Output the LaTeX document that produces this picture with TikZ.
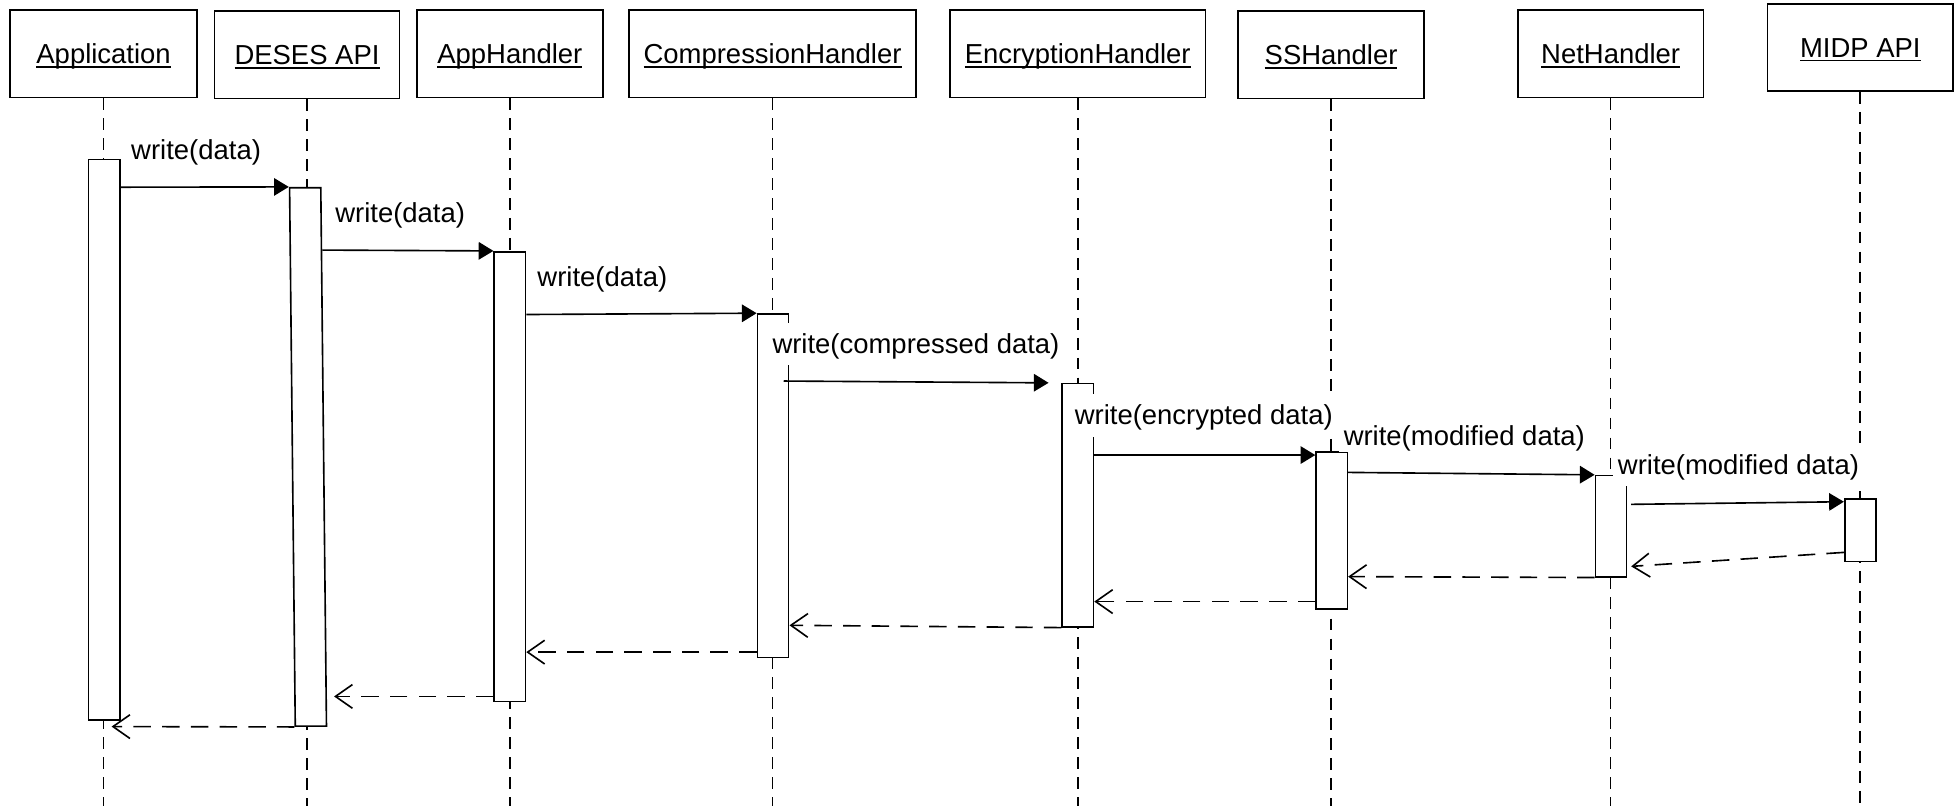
\documentclass[tikz,border=0pt]{standalone}
\usepackage{fontspec}
\setmainfont{Liberation Sans}
\usetikzlibrary{arrows.meta,calc}

% underlined object name, rule placed just under the baseline
\newcommand\ulname[1]{\setbox0=\hbox{#1}\rlap{\rule[-1.6pt]{\wd0}{0.6pt}}\box0}

\begin{document}
\begin{tikzpicture}[x=0.5pt, y=-0.5pt, line width=0.65pt,
  font=\fontsize{11pt}{13pt}\selectfont,
  obj/.style={draw, minimum height=35pt, inner sep=0pt, text height=7.9pt, text depth=0pt},
  lifeline/.style={dash pattern=on 4.7pt off 3.3pt},
  act/.style={draw, fill=white, inner sep=0pt, minimum width=12.5pt},
  call/.style={-{Triangle[length=5.9pt,width=7pt]}},
  reply/.style={dash pattern=on 7pt off 4.5pt, -{Straight Barb[length=6.8pt,width=9.5pt]}},
  msg/.style={fill=white, anchor=base west, inner xsep=2pt, inner ysep=2.3pt,
              text height=10pt, text depth=2.5pt},
]
\fill[white] (0,0) rectangle (1568,646);
\useasboundingbox (0,0) rectangle (1568,646);

% participants
\node[obj, minimum width=75pt]    (app)  at (83,43)     {\ulname{Application}};
\node[obj, minimum width=74pt]    (des)  at (246,44)    {\ulname{DESES API}};
\node[obj, minimum width=74.5pt]  (aph)  at (408.5,43)  {\ulname{AppHandler}};
\node[obj, minimum width=115pt]   (cmp)  at (619,43)    {\ulname{CompressionHandler}};
\node[obj, minimum width=102.5pt] (enc)  at (863.5,43)  {\ulname{EncryptionHandler}};
\node[obj, minimum width=74.5pt]  (ssh)  at (1066.5,44) {\ulname{SSHandler}};
\node[obj, minimum width=74.5pt]  (net)  at (1290.5,43) {\ulname{NetHandler}};
\node[obj, minimum width=74.5pt]  (mid)  at (1490.5,38) {\ulname{MIDP API}};

% lifelines
\foreach \o in {app,des,aph,cmp,enc,ssh,net,mid}
  \draw[lifeline] (\o.south) -- (\o.south |- 0,646);

% activation bars
\node[act, minimum height=224.6pt] (aApp) at (83.5,352.4) {};
\node[act, minimum height=215.7pt, xslant=-0.01055] (aDes) at (246.8,366.1) {};
\node[act, minimum height=180.2pt] (aAph) at (408.5,381.9) {};
\node[act, minimum height=137.6pt] (aCmp) at (619.4,389.2) {};
\node[act, minimum height=97.4pt]  (aEnc) at (863.6,404.8) {};
\node[act, minimum height=62.8pt]  (aSsh) at (1067,425.2) {};
\node[act, minimum height=40.5pt]  (aNet) at (1290.8,421.6) {};
\node[act, minimum height=25pt]    (aMid) at (1490.5,425) {};

% calls
\draw[call] (aApp.east |- 0,150) -- (aDes.north west);
\draw[call] ($(aDes.north east)!0.117!(aDes.south east)$) -- (aAph.north west);
\draw[call] (aAph.east |- 0,252) -- (aCmp.north west);
\draw[call] ($(aCmp.east |- 0,305.3)+(-4.6,0)$) -- ($(aEnc.north west)+(-10.3,0)$);
\draw[call] (aEnc.east |- 0,364.6) -- (aSsh.west |- 0,364.6);
\draw[call] (aSsh.east |- 0,378.5) -- (aNet.north west);
\draw[call] ($(aNet.east |- 0,404.1)+(3,0)$) -- (aMid.west |- 0,402);

% replies
\draw[reply] (aMid.west |- 0,442.6) -- ($(aNet.east |- 0,453.8)+(3,0)$);
\draw[reply] (aNet.south west) -- (aSsh.east |- 0,462);
\draw[reply] (aSsh.west |- 0,482) -- (aEnc.east |- 0,482);
\draw[reply] (aEnc.south west) -- (aCmp.east |- 0,501);
\draw[reply] (aCmp.west |- 0,522.5) -- (aAph.east |- 0,522.5);
\draw[reply] (aAph.west |- 0,558) -- ($(aDes.east |- 0,558)+(7.7,0)$);
\draw[reply] (aDes.south west) -- ($(aApp.south)+(5.9,4.5)$);

% message labels
\node[msg] (l1) at (100.5,128)  {write(data)};
\node[msg] (l2) at (264,178.4)  {write(data)};
\node[msg] (l3) at (426,229.2)  {write(data)};
\node[msg] (l4) at (614.3,283.1) {write(compressed data)};
\node[msg] (l5) at (856.5,340.5) {write(encrypted data)};
\node[msg, text depth=0.5pt] (l6) at (1072,356.6) {write(modified data)};
\node[msg] (l7) at (1291.7,379.8) {write(modified data)};
\end{tikzpicture}
\end{document}
